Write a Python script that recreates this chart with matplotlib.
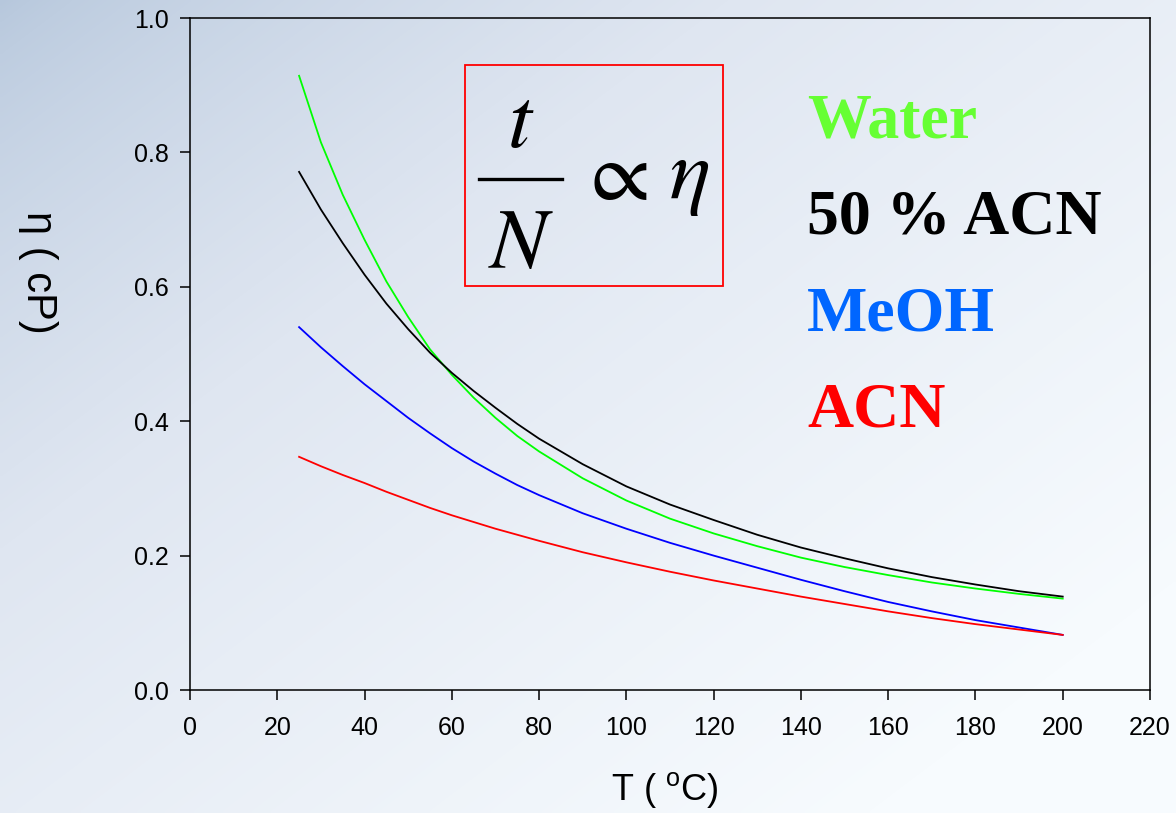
"""Viscosity of common HPLC mobile phases versus temperature."""
import numpy as np
import matplotlib
matplotlib.use("Agg")
import matplotlib.pyplot as plt
from matplotlib.colors import LinearSegmentedColormap
from matplotlib.lines import Line2D

plt.rcParams["font.family"] = ["Liberation Sans", "DejaVu Sans"]
plt.rcParams["mathtext.fontset"] = "stix"

# temperature (degC) and viscosity (cP) for each eluent
temp = [25, 30, 35, 40, 45, 50, 55, 60, 65, 70, 75, 80, 90, 100,
        110, 120, 130, 140, 150, 160, 170, 180, 190, 200]
eta_water = [0.914, 0.815, 0.737, 0.670, 0.608, 0.555, 0.507, 0.469, 0.435, 0.405, 0.378, 0.355,
             0.315, 0.282, 0.255, 0.233, 0.214, 0.197, 0.183, 0.171, 0.160, 0.151, 0.143, 0.136]
eta_acn50 = [0.771, 0.715, 0.665, 0.618, 0.575, 0.537, 0.502, 0.472, 0.445, 0.420, 0.396, 0.374,
             0.336, 0.303, 0.276, 0.253, 0.231, 0.212, 0.196, 0.181, 0.168, 0.157, 0.147, 0.139]
eta_meoh = [0.540, 0.510, 0.482, 0.455, 0.430, 0.405, 0.382, 0.360, 0.340, 0.322, 0.305, 0.290,
            0.263, 0.240, 0.219, 0.200, 0.182, 0.164, 0.147, 0.131, 0.117, 0.104, 0.093, 0.082]
eta_acn = [0.347, 0.333, 0.320, 0.308, 0.295, 0.283, 0.271, 0.260, 0.250, 0.240, 0.231, 0.222,
           0.205, 0.190, 0.176, 0.163, 0.151, 0.139, 0.128, 0.117, 0.107, 0.098, 0.090, 0.082]

series = [
    ("Water", eta_water, "#00ff00", "#66ff33"),
    ("50 % ACN", eta_acn50, "#000000", "#000000"),
    ("MeOH", eta_meoh, "#0000ff", "#0066ff"),
    ("ACN", eta_acn, "#ff0000", "#ff0000"),
]

W, H = 1176, 813
fig = plt.figure(figsize=(W / 100, H / 100), dpi=100)


def fx(px):
    return px / W


def fy(py):
    return 1 - py / H


# slide-style gradient backdrop: blue-grey top left fading to white bottom right
bg = fig.add_axes([0, 0, 1, 1], zorder=-10)
gx, gy = np.meshgrid(np.linspace(0, 1, 300), np.linspace(0, 1, 220))
grad = np.clip(0.6 * gx + 0.55 * gy, 0, 1) ** 0.7
cmap = LinearSegmentedColormap.from_list("slide", ["#b6c7dc", "#dfe6f1", "#f7fbfe"])
bg.imshow(grad, cmap=cmap, aspect="auto", extent=[0, 1, 1, 0], interpolation="bilinear")
bg.axis("off")

ax = fig.add_axes([fx(190), fy(690), fx(1150) - fx(190), fy(18) - fy(690)])
ax.patch.set_alpha(0)

for name, vals, line_col, _ in series:
    ax.plot(temp, vals, color=line_col, lw=1.3)

ax.set_xlim(0, 220)
ax.set_ylim(0, 1.0)
ax.set_xticks(np.arange(0, 221, 20))
ax.set_yticks(np.arange(0, 1.01, 0.2))
ax.yaxis.set_major_formatter(plt.FormatStrFormatter("%.1f"))
ax.tick_params(direction="out", length=7, width=1.1, labelsize=18, top=False, right=False)
ax.tick_params(axis="x", pad=12)
ax.tick_params(axis="y", pad=8)
for sp in ax.spines.values():
    sp.set_linewidth(1.1)

fig.text(fx(665), fy(790), r"T ( $\mathregular{^o}$C)", fontsize=26, ha="center", va="center")
fig.text(fx(38), fy(272), "\u03b7 ( cP)", fontsize=30, ha="center", va="center", rotation=-90)

# proportionality box: t / N  ∝  eta
box = plt.Rectangle((fx(465), fy(286)), fx(723) - fx(465), fy(65) - fy(286),
                    transform=fig.transFigure, fill=False, edgecolor="#ff0000", lw=1.3)
fig.add_artist(box)
fig.text(fx(521), fy(147), r"$t$", fontsize=62, ha="center", va="baseline")
fig.text(fx(521), fy(268), r"$N$", fontsize=62, ha="center", va="baseline")
fig.add_artist(Line2D([fx(479), fx(562)], [fy(179), fy(179)], transform=fig.transFigure,
                      color="black", lw=2.4))
fig.text(fx(613), fy(200), r"$\propto$", fontsize=62, ha="center", va="baseline")
fig.text(fx(689), fy(198), r"$\eta$", fontsize=62, ha="center", va="baseline")

# coloured series names
for i, (name, _, _, text_col) in enumerate(series):
    fig.text(fx(807), fy(138 + 96 * i), name, fontsize=46, fontweight="bold",
             family="Liberation Serif", color=text_col, ha="left", va="baseline")

fig.savefig("out.png", dpi=100)
